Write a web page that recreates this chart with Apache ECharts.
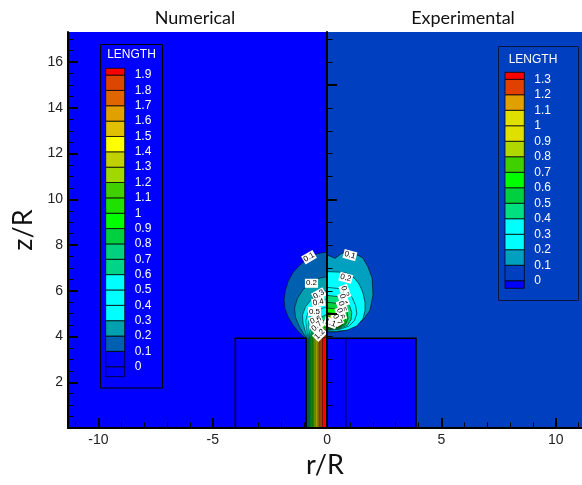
<!DOCTYPE html>
<html>
<head>
<meta charset="utf-8">
<script src="https://cdn.jsdelivr.net/npm/echarts@6/dist/echarts.min.js"></script>
<style>
  html, body { margin: 0; padding: 0; background: #fff; }
  #chart { width: 582px; height: 485px; }
</style>
</head>
<body>
<div id="chart"></div>
<script>
// axes (r/R across, z/R up)
const xRange = [-11.33, 11.15]
const yRange = [0, 17.32]
const xMajor = [-10, -5, 0, 5, 10]
const xMinor = [-11, -10, -9, -8, -7, -6, -5, -4, -3, -2, -1, 0, 1, 2, 3, 4, 5, 6, 7, 8, 9, 10, 11]
const yMajor = [2, 4, 6, 8, 10, 12, 14, 16]
const yMinor = [0.5, 1, 1.5, 2, 2.5, 3, 3.5, 4, 4.5, 5, 5.5, 6, 6.5, 7, 7.5, 8, 8.5, 9, 9.5, 10,
  10.5, 11, 11.5, 12, 12.5, 13, 13.5, 14, 14.5, 15, 15.5, 16, 16.5, 17]
const expYMajor = [5, 10, 15]
const expYMinor = [1, 2, 3, 4, 5, 6, 7, 8, 9, 10, 11, 12, 13, 14, 15, 16, 17]

// contour levels, band colours (below first level ... above last level)
const numLevels = [0, 0.1, 0.2, 0.3, 0.4, 0.5, 0.6, 0.7, 0.8, 0.9, 1, 1.1, 1.2, 1.3, 1.4, 1.5, 1.6, 1.7, 1.8, 1.9]
const numColors = ['#0000ff', '#0000ff', '#0060b0', '#00a0b0', '#00ffff', '#00ffff', '#00ffff', '#00d488',
  '#00d080', '#00d040', '#00ff00', '#20e000', '#40d000', '#a0d800', '#c0d000', '#ffff00', '#e0c000',
  '#e0a000', '#e06400', '#dc4600', '#ff0000']
const expLevels = [0, 0.1, 0.2, 0.3, 0.4, 0.5, 0.6, 0.7, 0.8, 0.9, 1, 1.1, 1.2, 1.3]
const expColors = ['#0000ff', '#0040c0', '#00a0c0', '#00ffff', '#00ffff', '#00e080', '#00d040', '#00ff00',
  '#40d000', '#b0d800', '#e0e000', '#e0e000', '#e0a000', '#e04000', '#ff0000']

// nozzle outlines
const nozzleTop = 3.92
const numNozzle = [[-0.92, 0], [-0.92, 3.92], [-4.01, 3.92], [-4.01, 0]]
const expNozzle = [[0, 0], [0, 3.92], [3.89, 3.92], [3.89, 0]]
const expWall = [[0.82, 0], [0.82, 3.92]]

// numerical: where each level (0.1 .. 1.9) sits inside the jet
const numJetX = [-0.90, -0.88, -0.86, -0.84, -0.82, -0.80, -0.78, -0.75, -0.71, -0.67,
  -0.63, -0.58, -0.53, -0.48, -0.43, -0.38, -0.33, -0.27, -0.2]

// numerical plume contours, levels 0.1 .. 1.9, from the axis round to the jet edge
const numShapes = [
  [[0, 7.7], [-0.45, 7.62], [-0.89, 7.38], [-1.2, 7.12], [-1.49, 6.8], [-1.7, 6.42], [-1.82, 6.02], [-1.88, 5.62],
    [-1.84, 5.22], [-1.7, 4.86], [-1.5, 4.52], [-1.3, 4.26], [-1.1, 4.06], [-0.96, 3.95]],
  [[0, 6.62], [-0.35, 6.55], [-0.7, 6.36], [-1.05, 6.05], [-1.3, 5.66], [-1.42, 5.24], [-1.38, 4.84], [-1.22, 4.46],
    [-1.04, 4.14], [-0.92, 3.96]],
  [[0, 6.02], [-0.34, 5.86], [-0.68, 5.62], [-0.94, 5.3], [-1.07, 4.95], [-1.05, 4.6], [-0.96, 4.26], [-0.88, 3.97]],
  [[0, 5.66], [-0.38, 5.52], [-0.65, 5.3], [-0.85, 5.02], [-0.93, 4.7], [-0.9, 4.36], [-0.85, 4.0]],
  [[0, 5.3], [-0.52, 5.13], [-0.74, 4.88], [-0.82, 4.56], [-0.83, 4.24], [-0.82, 3.97]],
  [[0, 4.98], [-0.48, 4.74], [-0.69, 4.46], [-0.77, 4.16], [-0.79, 3.96]],
  [[0, 4.78], [-0.4, 4.56], [-0.62, 4.3], [-0.74, 4.04]],
  [[0, 4.62], [-0.4, 4.43], [-0.6, 4.2], [-0.71, 3.98]],
  [[0, 4.52], [-0.35, 4.36], [-0.55, 4.16], [-0.67, 3.96]],
  [[0, 4.44], [-0.3, 4.3], [-0.5, 4.1], [-0.63, 3.95]],
  [[0, 4.36], [-0.3, 4.22], [-0.5, 4.05]],
  [[0, 4.29], [-0.28, 4.17], [-0.46, 4.0]],
  [[0, 4.23], [-0.25, 4.12], [-0.42, 3.98]],
  [[0, 4.18], [-0.22, 4.08], [-0.38, 3.96]],
  [[0, 4.13], [-0.22, 4.04]],
  [[0, 4.09], [-0.2, 4.0]],
  [[0, 4.05], [-0.16, 3.97]],
  [[0, 4.01], [-0.12, 3.95]],
  [[0, 3.97]]
]

// experimental plume contours, levels 0.1 .. 1.3
const expShapes = [
  [[0, 7.57], [0.35, 7.42], [0.64, 7.64], [1.14, 7.66], [1.57, 7.44], [1.79, 7.04], [1.97, 6.56], [2.01, 5.82],
    [1.88, 5.16], [1.57, 4.72], [1.14, 4.43], [0.79, 4.27], [0.4, 4.2], [0, 4.2]],
  [[0, 6.84], [0.5, 6.82], [0.86, 6.77], [1.2, 6.55], [1.4, 6.3], [1.56, 5.95], [1.66, 5.5], [1.66, 5.14],
    [1.57, 4.78], [1.3, 4.46], [0.9, 4.29], [0.4, 4.23], [0, 4.23]],
  [[0, 6.15], [0.5, 6.1], [0.85, 5.95], [1.1, 5.7], [1.25, 5.35], [1.3, 5.0], [1.2, 4.7], [0.95, 4.45], [0.5, 4.3], [0, 4.27]],
  [[0, 5.8], [0.45, 5.75], [0.75, 5.6], [0.98, 5.35], [1.08, 5.05], [1.05, 4.75], [0.9, 4.5], [0.5, 4.33], [0, 4.3]],
  [[0, 5.5], [0.45, 5.45], [0.7, 5.3], [0.88, 5.05], [0.92, 4.8], [0.82, 4.55], [0.5, 4.37], [0, 4.33]],
  [[0, 5.25], [0.4, 5.2], [0.65, 5.05], [0.8, 4.85], [0.78, 4.6], [0.5, 4.4], [0, 4.36]],
  [[0, 5.05], [0.4, 5.0], [0.6, 4.85], [0.72, 4.65], [0.6, 4.46], [0, 4.38]],
  [[0, 4.9], [0.38, 4.85], [0.58, 4.72], [0.65, 4.56], [0.5, 4.44], [0, 4.4]],
  [[0, 4.8], [0.35, 4.76], [0.52, 4.63], [0.55, 4.51], [0.4, 4.45], [0, 4.42]],
  [[0, 4.72], [0.32, 4.68], [0.45, 4.57], [0.45, 4.48], [0, 4.43]],
  [[0, 4.66], [0.28, 4.62], [0.38, 4.53], [0.3, 4.46], [0, 4.44]],
  [[0, 4.62], [0.22, 4.58], [0.3, 4.51], [0, 4.46]],
  [[0, 4.58], [0.15, 4.55], [0.2, 4.5], [0, 4.47]]
]

// contour labels: text, r, z, angle (deg)
const numTags = [['0.1', -0.79, 7.47, 30], ['0.2', -0.68, 6.33, 0], ['0.3', -0.36, 5.84, 30], ['0.4', -0.38, 5.5, 10],
  ['0.5', -0.55, 5.1, 0], ['0.6', -0.5, 4.72, 20], ['0.7', -0.45, 4.45, 40], ['1.2', -0.32, 4.1, 45]]
const expTags = [['0.1', 1.0, 7.56, -15], ['0.2', 0.82, 6.57, -15], ['0.3', 0.78, 5.97, -70], ['0.4', 0.72, 5.62, -70],
  ['0.5', 0.66, 5.3, -70], ['0.6', 0.6, 5.0, -70], ['0.7', 0.45, 4.75, -60], ['1.1', 0.15, 4.6, -20]]

const numLegendRange = [-0.065, 1.944]
const expLegendRange = [-0.049, 1.345]

const gridW = 514
const centreOffset = -(0 - xRange[0]) / (xRange[1] - xRange[0]) * gridW
const tickFont = 'Liberation Sans'

let chart = echarts.init(document.getElementById('chart'))

function poly(pts, api, fill, stroke, lw) {
  return {
    type: 'polygon',
    shape: {points: pts.map(p => api.coord(p))},
    style: {fill: fill, stroke: stroke, lineWidth: lw}
  }
}

function legendCell(levels, colors, range) {
  return (params, api) => {
    let i = params.dataIndex
    let lo = i === 0 ? range[0] : levels[i - 1]
    let hi = i === levels.length ? range[1] : levels[i]
    let p0 = api.coord([0, lo])
    let p1 = api.coord([1, hi])
    return {
      type: 'rect',
      shape: {x: p0[0], y: p1[1], width: p1[0] - p0[0], height: p0[1] - p1[1]},
      style: {fill: colors[i], stroke: 'rgba(0,0,0,0.75)', lineWidth: 1}
    }
  }
}

function levelLabel(v) {
  return String(Math.round(v * 10) / 10)
}

let allTags = numTags.concat(expTags)

let option = {
  animation: false,
  backgroundColor: '#fff',
  grid: [
    {left: 68, top: 32, width: gridW, height: 396},
    {left: 105.7, top: 68.3, width: 19, height: 308.4},
    {left: 505, top: 72.3, width: 19.3, height: 216}
  ],
  xAxis: [
    {
      gridIndex: 0, type: 'value', min: xRange[0], max: xRange[1], position: 'bottom', z: 4,
      axisLine: {onZero: false, lineStyle: {color: '#000', width: 2}},
      axisTick: {inside: true, length: 10, customValues: xMajor, lineStyle: {color: '#000', width: 2}},
      axisLabel: {customValues: xMajor, margin: 5, fontSize: 14, color: '#222', fontFamily: tickFont},
      splitLine: {show: false},
      name: 'r/R', nameLocation: 'middle', nameGap: 20,
      nameTextStyle: {fontSize: 27, fontFamily: 'Lato', color: '#111'}
    },
    {
      gridIndex: 0, type: 'value', min: xRange[0], max: xRange[1], position: 'bottom', offset: 0, z: 4,
      axisLine: {show: false, onZero: false},
      axisTick: {inside: true, length: 5.5, customValues: xMinor, lineStyle: {color: '#000', width: 1}},
      axisLabel: {show: false},
      splitLine: {show: false}
    },
    {gridIndex: 1, type: 'value', min: 0, max: 1, show: false},
    {gridIndex: 2, type: 'value', min: 0, max: 1, show: false}
  ],
  yAxis: [
    {
      gridIndex: 0, type: 'value', min: yRange[0], max: yRange[1], position: 'left', z: 4,
      axisLine: {onZero: false, lineStyle: {color: '#000', width: 2}},
      axisTick: {inside: true, length: 10, customValues: yMajor, lineStyle: {color: '#000', width: 2}},
      axisLabel: {customValues: yMajor, margin: 5, fontSize: 14, color: '#222', fontFamily: tickFont},
      splitLine: {show: false},
      name: 'z/R', nameLocation: 'middle', nameGap: 30, nameRotate: 90,
      nameTextStyle: {fontSize: 27, fontFamily: 'Lato', color: '#111'}
    },
    {
      gridIndex: 0, type: 'value', min: yRange[0], max: yRange[1], position: 'left', offset: 0, z: 4,
      axisLine: {show: false, onZero: false},
      axisTick: {inside: true, length: 5.5, customValues: yMinor, lineStyle: {color: '#000', width: 1}},
      axisLabel: {show: false},
      splitLine: {show: false}
    },
    {
      gridIndex: 0, type: 'value', min: yRange[0], max: yRange[1], position: 'left', offset: centreOffset, z: 4,
      axisLine: {onZero: false, lineStyle: {color: '#000', width: 2}},
      axisTick: {inside: true, length: 10, customValues: expYMajor, lineStyle: {color: '#000', width: 2}},
      axisLabel: {show: false},
      splitLine: {show: false}
    },
    {
      gridIndex: 0, type: 'value', min: yRange[0], max: yRange[1], position: 'left', offset: centreOffset, z: 4,
      axisLine: {show: false, onZero: false},
      axisTick: {inside: true, length: 5.5, customValues: expYMinor, lineStyle: {color: '#000', width: 1}},
      axisLabel: {show: false},
      splitLine: {show: false}
    },
    {
      gridIndex: 1, type: 'value', min: numLegendRange[0], max: numLegendRange[1], position: 'right', z: 7,
      axisLine: {show: false, onZero: false}, axisTick: {show: false}, splitLine: {show: false},
      axisLabel: {customValues: numLevels, formatter: levelLabel, margin: 10, fontSize: 12, color: '#fff',
        fontFamily: tickFont, padding: [5, 0, 0, 0]}
    },
    {
      gridIndex: 2, type: 'value', min: expLegendRange[0], max: expLegendRange[1], position: 'right', z: 7,
      axisLine: {show: false, onZero: false}, axisTick: {show: false}, splitLine: {show: false},
      axisLabel: {customValues: expLevels, formatter: levelLabel, margin: 10, fontSize: 12, color: '#fff',
        fontFamily: tickFont, padding: [5, 0, 0, 0]}
    }
  ],
  graphic: [
    {type: 'rect', z: 5, shape: {x: 100.5, y: 44.5, width: 62, height: 343.5},
      style: {fill: numColors[1], stroke: '#000', lineWidth: 1}},
    {type: 'rect', z: 5, shape: {x: 498.5, y: 46.5, width: 80, height: 254},
      style: {fill: expColors[1], stroke: '#0a1540', lineWidth: 1}},
    {type: 'text', z: 8, x: 131.5, y: 55, style: {text: 'LENGTH', fill: '#fff', font: '12px Liberation Sans', align: 'center', verticalAlign: 'middle'}},
    {type: 'text', z: 8, x: 533, y: 60, style: {text: 'LENGTH', fill: '#fff', font: '12px Liberation Sans', align: 'center', verticalAlign: 'middle'}},
    {type: 'text', z: 8, x: 195, y: 18, style: {text: 'Numerical', fill: '#111', font: '18px Lato', align: 'center', verticalAlign: 'middle'}},
    {type: 'text', z: 8, x: 463, y: 18, style: {text: 'Experimental', fill: '#111', font: '18px Lato', align: 'center', verticalAlign: 'middle'}}
  ],
  series: [
    {
      // the two frames' backgrounds and the experimental nozzle block
      type: 'custom', xAxisIndex: 0, yAxisIndex: 0, z: 1, clip: true,
      data: [0, 1, 2],
      renderItem: (params, api) => {
        let i = params.dataIndex
        if (i === 0) return poly([[xRange[0], yRange[0]], [xRange[0], yRange[1]], [0, yRange[1]], [0, yRange[0]]], api, numColors[1], 'none', 0)
        if (i === 1) return poly([[0, yRange[0]], [0, yRange[1]], [xRange[1], yRange[1]], [xRange[1], yRange[0]]], api, expColors[1], 'none', 0)
        return poly(expNozzle, api, expColors[0], 'none', 0)
      }
    },
    {
      name: 'Numerical', type: 'custom', xAxisIndex: 0, yAxisIndex: 0, z: 1, clip: true,
      data: numShapes.map((s, i) => i),
      renderItem: (params, api) => {
        let k = params.dataIndex
        let jx = numJetX[k]
        let pts = numShapes[k].concat([[jx, nozzleTop], [jx, 0], [0, 0]])
        return poly(pts, api, numColors[k + 2], '#000', 0.5)
      }
    },
    {
      name: 'Experimental', type: 'custom', xAxisIndex: 0, yAxisIndex: 0, z: 1, clip: true,
      data: expShapes.map((s, i) => i),
      renderItem: (params, api) => poly(expShapes[params.dataIndex], api, expColors[params.dataIndex + 2], '#000', 0.6)
    },
    {
      // nozzle walls
      type: 'custom', xAxisIndex: 0, yAxisIndex: 0, z: 2, clip: true,
      data: [0, 1, 2],
      renderItem: (params, api) => {
        let lines = [numNozzle, expNozzle, expWall]
        let i = params.dataIndex
        return {
          type: 'polyline',
          shape: {points: lines[i].map(p => api.coord(p))},
          style: {fill: 'none', stroke: '#000', lineWidth: i === 2 ? 1 : 1.5}
        }
      }
    },
    {
      // contour labels
      type: 'custom', xAxisIndex: 0, yAxisIndex: 0, z: 3, clip: true,
      data: allTags.map((t, i) => i),
      renderItem: (params, api) => {
        let t = allTags[params.dataIndex]
        let c = api.coord([t[1], t[2]])
        return {
          type: 'text', x: c[0], y: c[1], rotation: t[3] * Math.PI / 180,
          style: {
            text: t[0], fill: '#000', font: '8px Liberation Sans', align: 'center', verticalAlign: 'middle',
            backgroundColor: '#fff', padding: [1, 1, 0, 1]
          }
        }
      }
    },
    {
      type: 'custom', xAxisIndex: 2, yAxisIndex: 4, z: 6,
      data: numColors.map((c, i) => i),
      renderItem: legendCell(numLevels, numColors, numLegendRange)
    },
    {
      type: 'custom', xAxisIndex: 3, yAxisIndex: 5, z: 6,
      data: expColors.map((c, i) => i),
      renderItem: legendCell(expLevels, expColors, expLegendRange)
    }
  ]
}

chart.setOption(option)
</script>
</body>
</html>
